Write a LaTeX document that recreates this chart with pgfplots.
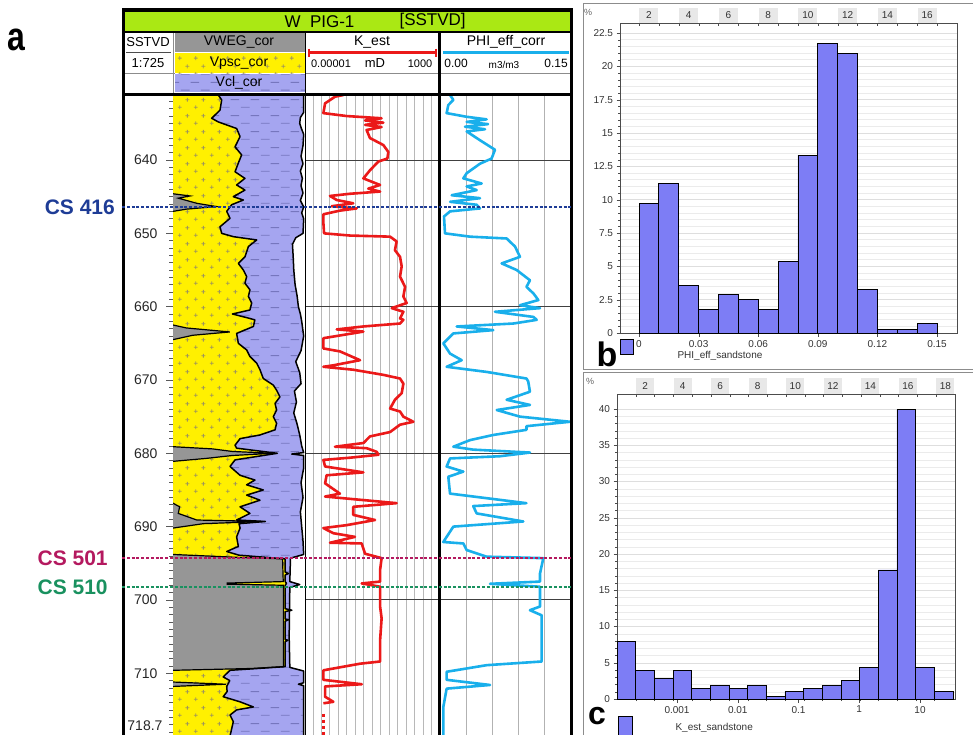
\documentclass[border=0pt]{standalone}
\usepackage{fontspec}
\setmainfont{Liberation Sans}
\usepackage{pgfplots}
\usepackage{pgfplotstable}
\pgfplotsset{compat=1.18}
\usetikzlibrary{patterns,patterns.meta}
\pgfplotsset{/pgf/number format/assume math mode=true}

\definecolor{titlegreen}{RGB}{170,232,20}
\definecolor{sandyellow}{RGB}{255,240,0}
\definecolor{shalepurple}{RGB}{165,165,240}
\definecolor{coalgray}{RGB}{150,150,150}
\definecolor{plusc}{RGB}{160,150,90}
\definecolor{dashc}{RGB}{118,118,190}
\definecolor{kred}{RGB}{235,25,25}
\definecolor{phiblue}{RGB}{25,175,235}
\definecolor{barblue}{RGB}{125,125,245}
\definecolor{csA}{RGB}{30,60,150}
\definecolor{csB}{RGB}{180,25,95}
\definecolor{csC}{RGB}{25,145,95}

\tikzdeclarepattern{
  name=sandplus, type=uncolored,
  bounding box={(0pt,0pt) and (16pt,16pt)},
  tile size={(16pt,16pt)},
  code={\draw[line width=0.8pt] (2pt,4pt)--(6pt,4pt) (4pt,2pt)--(4pt,6pt)
        (10pt,12pt)--(14pt,12pt) (12pt,10pt)--(12pt,14pt);}}
\tikzdeclarepattern{
  name=shaledash, type=uncolored,
  bounding box={(0pt,0pt) and (20pt,16pt)},
  tile size={(20pt,16pt)},
  code={\draw[line width=1pt] (1pt,4pt)--(10pt,4pt) (11pt,12pt)--(20pt,12pt);}}

% purple (Vcl) right boundary, cumulative
\pgfplotstableread{
d f
631.13 0.99
633.5 0.99
634.2 0.965
635.0 0.96
635.8 0.975
636.5 0.99
638.0 0.985
639.5 0.97
640.5 0.985
641.5 0.965
642.5 0.98
643.5 0.97
644.5 0.985
645.5 0.965
646.4 0.99
647.2 0.975
648.0 0.99
650.0 0.985
650.6 0.93
651.5 0.905
653.0 0.91
655.0 0.915
657.0 0.925
658.5 0.94
660.0 0.95
661.0 0.965
662.0 0.975
664.0 0.99
666.0 0.97
667.5 0.93
669.0 0.96
670.5 0.97
671.5 0.92
673.0 0.935
674.5 0.915
676.0 0.94
677.5 0.96
679.0 0.975
679.9 0.99
680.1 0.90
680.3 0.99
682.0 0.99
684.0 0.97
686.0 0.985
688.0 0.965
690.0 0.975
692.0 0.985
693.8 0.99
694.3 0.89
697.5 0.885
697.9 0.96
698.3 0.885
705.0 0.88
709.2 0.885
709.7 0.99
711.3 0.99
711.5 0.95
711.7 0.99
718.7 0.99
}\cthree

% yellow (Vpsc) right boundary, cumulative
\pgfplotstableread{
d f
631.13 0.343
631.8 0.369
633.2 0.356
634.3 0.293
634.8 0.343
635.7 0.482
636.8 0.508
638.2 0.47
639.3 0.52
640.4 0.495
641.6 0.47
642.5 0.545
643.4 0.482
644.1 0.545
645.0 0.457
645.45 0.533
646.1 0.444
647.0 0.407
647.95 0.432
649.1 0.356
650.0 0.369
650.45 0.457
650.9 0.634
651.8 0.571
653.2 0.545
654.1 0.495
655.0 0.533
655.9 0.558
656.8 0.545
657.7 0.583
658.6 0.571
659.5 0.596
660.45 0.583
661.0 0.45
661.5 0.56
661.8 0.62
662.7 0.609
663.65 0.482
665.0 0.495
665.9 0.558
666.8 0.583
667.7 0.634
668.6 0.659
669.8 0.684
670.7 0.76
671.4 0.785
672.3 0.81
673.2 0.773
674.1 0.785
675.0 0.76
675.9 0.785
676.8 0.773
677.5 0.659
678.0 0.508
678.9 0.47
679.3 0.482
680.0 0.79
680.9 0.47
681.8 0.432
683.0 0.508
683.65 0.621
684.3 0.558
685.0 0.684
685.7 0.558
686.4 0.659
687.3 0.508
688.2 0.583
689.1 0.482
689.3 0.70
689.6 0.50
690.2 0.508
691.4 0.482
692.7 0.495
693.4 0.407
693.9 0.50
694.4 0.85
696.2 0.85
696.4 0.875
696.6 0.85
697.5 0.85
697.75 0.86
698.0 0.85
701.2 0.85
701.4 0.9
701.6 0.85
702.6 0.85
702.7 0.875
702.9 0.85
705.4 0.85
705.5 0.87
705.7 0.85
709.1 0.85
709.4 0.6
709.6 0.432
710.5 0.38
711.0 0.43
711.8 0.407
712.5 0.41
713.2 0.38
713.9 0.508
714.6 0.609
715.0 0.482
715.7 0.432
716.6 0.457
718.7 0.43
}\ctwo

% K_est (mD)
\pgfplotstableread{
d k
631.13 1.86e-3
631.36 6.0e-4
632.27 1.55e-4
633.6 1.23e-4
634.0 2.95e-3
634.3 0.347
634.6 0.0363
634.9 0.437
635.2 0.0363
635.5 0.347
635.9 0.0447
637.0 0.0708
637.95 0.437
638.9 0.871
639.8 0.759
640.2 0.224
641.4 0.0708
642.5 0.0288
642.95 0.0891
643.4 0.282
643.9 0.0562
644.3 0.282
644.6 4.68e-3
644.9 3.02e-4
645.45 7.59e-4
645.9 7.24e-3
646.3 3.8e-4
646.6 0.0115
646.9 1.17e-3
647.4 1.23e-4
648.6 1.23e-4
650.0 1.35e-4
650.3 4.68e-3
650.45 1.10
651.1 2.69
652.3 2.14
653.2 4.27
654.5 5.37
655.9 4.27
657.3 8.51
658.6 6.76
659.5 10.5
660.2 1.38
660.7 6.76
661.6 4.27
661.8 6.76
662.3 4.27
662.7 0.0288
663.1 7.59e-4
663.4 0.0288
664.3 1.23e-4
665.7 1.23e-4
666.1 1.17e-3
667.3 0.0182
668.0 4.79e-4
668.2 1.23e-4
668.6 7.24e-3
669.3 0.437
669.8 4.27
670.5 6.76
671.8 5.37
672.7 2.14
673.9 1.10
674.3 4.27
675.0 6.76
675.7 26.3
676.1 4.27
677.1 1.10
677.7 0.0708
678.6 0.0288
679.1 6.0e-4
679.3 0.0447
679.8 0.178
680.2 0.224
680.6 4.68e-3
680.9 1.23e-4
681.8 1.55e-4
682.6 0.0288
683.0 1.9e-4
684.1 1.55e-4
685.5 1.17e-3
685.9 1.55e-4
686.8 2.69
687.3 7.24e-3
688.4 7.24e-3
689.1 0.141
689.8 2.95e-3
690.2 1.23e-4
690.9 4.79e-4
691.4 9.12e-3
692.2 3.02e-4
692.3 0.0229
693.7 0.0363
694.3 0.347
695.9 0.282
697.5 0.282
697.75 0.0229
698.2 0.282
700.9 0.282
702.5 0.347
705.5 0.282
708.4 0.282
708.7 0.0182
709.6 1.23e-4
710.9 1.23e-4
711.5 0.0229
711.8 1.55e-4
713.2 1.55e-4
713.9 4.79e-4
714.1 1.23e-4
}\ktab

% PHI_eff_corr (m3/m3)
\pgfplotstableread{
d p
631.13 0.0115
631.8 0.0153
632.5 0.0095
633.6 0.0076
634.1 0.0305
634.45 0.0534
634.8 0.0305
635.1 0.055
635.45 0.0286
635.8 0.0515
636.1 0.0305
637.3 0.0458
638.6 0.063
639.8 0.059
640.5 0.0458
641.8 0.0305
642.5 0.0267
643.2 0.0477
643.6 0.0305
644.1 0.042
644.8 0.0134
645.2 0.0458
645.7 0.0115
646.1 0.042
646.6 0.0458
647.0 0.0115
647.7 0.0046
650.0 0.0057
650.45 0.0344
650.7 0.0763
651.8 0.0859
653.2 0.0916
654.1 0.0706
655.0 0.0878
656.4 0.103
657.3 0.099
658.2 0.107
659.1 0.1126
659.8 0.0916
660.2 0.1145
660.7 0.063
661.4 0.107
661.8 0.1107
662.3 0.084
662.7 0.0191
663.2 0.061
663.65 0.0153
665.0 0.0038
666.4 0.0115
667.3 0.0248
668.2 0.0076
668.9 0.0534
669.8 0.099
670.2 0.101
671.6 0.103
672.7 0.0763
673.4 0.103
674.1 0.065
675.0 0.0916
675.7 0.1489
676.3 0.099
676.8 0.099
677.5 0.061
678.2 0.0344
679.1 0.0153
679.5 0.038
679.9 0.103
680.4 0.0687
680.7 0.0115
681.8 0.0076
682.5 0.0267
683.2 0.0095
685.5 0.0115
686.8 0.099
687.2 0.038
688.2 0.042
689.3 0.0954
690.0 0.0153
691.4 0.0076
692.1 0.0038
692.3 0.0267
693.2 0.0305
694.1 0.0534
694.3 0.1183
696.4 0.1145
697.5 0.1145
697.8 0.0573
698.2 0.1145
700.9 0.1145
701.4 0.103
702.1 0.1164
705.5 0.1164
708.4 0.1164
708.9 0.0534
709.8 0.0076
710.9 0.0076
711.6 0.0573
712.1 0.0076
714.6 0.0038
718.7 0.0038
}\phitab

% histogram b: bin left edge, percent
\pgfplotstableread{
x y
0 9.75
0.01 11.25
0.02 3.6
0.03 1.8
0.04 2.9
0.05 2.5
0.06 1.8
0.07 5.4
0.08 13.35
0.09 21.7
0.10 20.95
0.11 3.25
0.12 0.3
0.13 0.3
0.14 0.7
0.15 0
}\phihist

% histogram c: bin left edge (mD), percent
\pgfplotstableread{
x y
1.028e-4 8.0
2.085e-4 4.0
4.23e-4 2.85
8.59e-4 4.0
1.742e-3 1.45
3.53e-3 1.9
7.17e-3 1.5
1.455e-2 1.9
2.95e-2 0.4
5.99e-2 1.0
0.1216 1.5
0.2466 1.9
0.5005 2.6
1.016 4.4
2.061 17.8
4.18 39.9
8.49 4.4
17.2 1.0
34.9 0
}\khist

\newcommand{\fs}[1]{\fontsize{#1}{#1}\selectfont}

\begin{document}
\begin{tikzpicture}
\useasboundingbox (0pt,0pt) rectangle (973pt,-734pt);

% ---------- header ----------
\fill[titlegreen] (123pt,-10pt) rectangle (571pt,-32pt);
\node[anchor=west,font=\fs{17}] at (281pt,-21.5pt) {W\ \ PIG-1};
\node[anchor=west,font=\fs{17}] at (396pt,-21.5pt) {[SSTVD]};
\node[font=\fs{13}] at (148pt,-42pt) {SSTVD};
\draw[black!70,line width=0.8pt] (126pt,-52pt) -- (171pt,-52pt);
\node[font=\fs{13}] at (148pt,-63pt) {1:725};
\fill[coalgray] (175pt,-33pt) rectangle (305pt,-52pt);
\fill[sandyellow,postaction={pattern=sandplus,pattern color=plusc}] (175pt,-53pt) rectangle (305pt,-73pt);
\fill[shalepurple,postaction={pattern=shaledash,pattern color=dashc}] (175pt,-74pt) rectangle (305pt,-92pt);
\node[font=\fs{14}] at (239pt,-42pt) {VWEG\_cor};
\node[font=\fs{14}] at (239pt,-63pt) {Vpsc\_cor};
\node[font=\fs{14}] at (239pt,-83pt) {Vcl\_cor};
\node[font=\fs{14}] at (372pt,-42pt) {K\_est};
\draw[kred,line width=2.6pt] (309pt,-52.5pt) -- (436pt,-52.5pt);
\draw[kred,line width=1.6pt] (309pt,-48.5pt) -- (309pt,-56.5pt) (436pt,-48.5pt) -- (436pt,-56.5pt);
\node[font=\fs{11}] at (331pt,-63.5pt) {0.00001};
\node[font=\fs{13}] at (375pt,-63.5pt) {mD};
\node[font=\fs{11}] at (420pt,-63.5pt) {1000};
\node[font=\fs{14}] at (506pt,-42pt) {PHI\_eff\_corr};
\draw[phiblue,line width=2.6pt] (443pt,-52.5pt) -- (569pt,-52.5pt);
\node[font=\fs{12}] at (456pt,-63.5pt) {0.00};
\node[font=\fs{10}] at (504pt,-64.5pt) {m3/m3};
\node[font=\fs{12}] at (556pt,-63.5pt) {0.15};
\draw[black!45,line width=0.7pt] (123pt,-73.5pt) -- (175pt,-73.5pt) (305pt,-73.5pt) -- (571pt,-73.5pt);
\draw[black!45,line width=0.7pt] (173.5pt,-32pt) -- (173.5pt,-93pt);

% ---------- lithology track ----------
\begin{axis}[at={(173pt,-95pt)}, anchor=north west, scale only axis,
  width=132pt, height=642pt,
  xmin=0, xmax=1, ymin=631.13, ymax=718.7, y dir=reverse,
  axis x line=none, axis y line*=left,
  y axis line style={black!60,line width=0.6pt},
  ytick={630,640,...,720}, minor y tick num=9,
  tick align=outside, major tick length=7pt, minor tick length=4pt,
  tick style={black!65,line width=0.6pt},
  yticklabel style={font=\fs{14}, xshift=-5pt, text=black!85},
  extra y ticks={718.7}, extra y tick labels={718.7},
  extra y tick style={yticklabel style={yshift=11pt, xshift=5pt}},
  clip=true]
\addplot[fill=shalepurple, draw=none, postaction={pattern=shaledash,pattern color=dashc}]
  table[x=f,y=d]{\cthree} -- (axis cs:0,718.7) -- (axis cs:0,631.13) -- cycle;
\addplot[fill=sandyellow, draw=none, postaction={pattern=sandplus,pattern color=plusc}]
  table[x=f,y=d]{\ctwo} -- (axis cs:0,718.7) -- (axis cs:0,631.13) -- cycle;
\addplot[fill=coalgray, draw=black, line width=1.2pt] coordinates
  {(0,644.6) (0.129,644.9) (0.04,645.2) (0.18,645.9) (0.331,646.35) (0.10,646.7) (0,647.0)};
\addplot[fill=coalgray, draw=black, line width=1.2pt] coordinates
  {(0,662.5) (0.1,662.9) (0.43,663.45) (0.15,663.9) (0,664.5)};
\addplot[fill=coalgray, draw=black, line width=1.2pt] coordinates
  {(0,679.1) (0.3,679.4) (0.45,679.75) (0.76,680.0) (0.45,680.3) (0.25,680.7) (0,681.1)};
\addplot[fill=coalgray, draw=black, line width=1.2pt] coordinates
  {(0,686.8) (0.05,687.3) (0.04,688.2) (0.18,689.1) (0.68,689.3) (0.23,689.6) (0,690.2)};
\addplot[fill=coalgray, draw=black, line width=1.2pt] coordinates
  {(0,693.8) (0.5,694.2) (0.83,694.4) (0.835,697.5) (0.41,697.7) (0.41,697.85) (0.836,698.0) (0.836,709.1) (0.6,709.35) (0,709.6)};
\addplot[fill=coalgray, draw=black, line width=1.2pt] coordinates
  {(0,711.2) (0.4,711.5) (0,711.8)};
\addplot[black, line width=1.5pt, line join=round] table[x=f,y=d]{\ctwo};
\addplot[black, line width=1.5pt, line join=round] table[x=f,y=d]{\cthree};
\end{axis}

% ---------- K_est track ----------
\begin{axis}[at={(305pt,-95pt)}, anchor=north west, scale only axis,
  width=135pt, height=642pt,
  xmode=log, xmin=1e-5, xmax=1e3, ymin=631.13, ymax=718.7, y dir=reverse,
  axis line style={draw=none},
  xtick={3e-5,1e-4,3e-4,1e-3,3e-3,1e-2,3e-2,1e-1,3e-1,1,3,10,30,100,300},
  xticklabels={}, ytick={640,660,680,700}, yticklabels={},
  xmajorgrids, ymajorgrids, major tick length=0pt, minor tick length=0pt,
  major x grid style={black!28,line width=0.9pt},
  major y grid style={black!75,line width=1pt}]
\addplot[kred, line width=2.6pt, line join=round] table[x=k,y=d]{\ktab};
\addplot[kred, line width=2.6pt, dash pattern=on 3pt off 3pt] coordinates {(1.23e-4,715.5) (1.23e-4,718.7)};
\end{axis}

% ---------- PHI track ----------
\begin{axis}[at={(440pt,-95pt)}, anchor=north west, scale only axis,
  width=131pt, height=642pt,
  xmin=0, xmax=0.15, ymin=631.13, ymax=718.7, y dir=reverse,
  axis line style={draw=none},
  xtick={0.03,0.06,0.09,0.12}, xticklabels={}, ytick={640,660,680,700}, yticklabels={},
  xmajorgrids, ymajorgrids, major tick length=0pt,
  major x grid style={black!30,line width=1pt},
  major y grid style={black!75,line width=1pt}]
\addplot[phiblue, line width=2.6pt, line join=round] table[x=p,y=d]{\phitab};
\end{axis}

% ---------- frame lines ----------
\draw[black,line width=1.5pt] (305.5pt,-32pt) -- (305.5pt,-740pt);
\draw[black,line width=3.5pt] (439.5pt,-32pt) -- (439.5pt,-740pt);
\draw[black,line width=2pt] (123pt,-32pt) -- (571pt,-32pt);
\draw[black,line width=3pt] (123pt,-94pt) -- (571pt,-94pt);
\draw[black,line width=3.5pt] (123.5pt,-10pt) rectangle (571.5pt,-760pt);

% ---------- CS horizons ----------
\begin{axis}[at={(122pt,-95pt)}, anchor=north west, scale only axis,
  width=449pt, height=642pt, xmin=0, xmax=1,
  ymin=631.13, ymax=718.7, y dir=reverse, hide axis, clip=false]
\addplot[csA, line width=1.6pt, dash pattern=on 3pt off 1.8pt] coordinates {(0,646.4) (1,646.4)};
\addplot[csB, line width=1.6pt, dash pattern=on 3pt off 1.8pt] coordinates {(0,694.3) (1,694.3)};
\addplot[csC, line width=1.6pt, dash pattern=on 3pt off 1.8pt] coordinates {(0,698.25) (1,698.25)};
\node[anchor=east, text=csA, font=\fs{21}\bfseries] at (axis cs:-0.008,646.4) {CS 416};
\node[anchor=east, text=csB, font=\fs{21}\bfseries] at (axis cs:-0.024,694.3) {CS 501};
\node[anchor=east, text=csC, font=\fs{21}\bfseries] at (axis cs:-0.024,698.25) {CS 510};
\end{axis}

\node[font=\fs{40}\bfseries, xscale=0.8] at (16pt,-40pt) {a};

% ---------- histogram b ----------
\draw[black!45,line width=0.8pt] (583pt,-3pt) -- (975pt,-3pt) (583pt,-3pt) -- (583pt,-369pt) -- (975pt,-369pt);
\node[font=\fs{9},text=black!60] at (588pt,-12pt) {\%};
\begin{axis}[at={(620pt,-333pt)}, anchor=south west, scale only axis,
  width=337pt, height=310pt,
  xmin=-0.00956, xmax=0.16007, ymin=0, ymax=23.25,
  axis line style={black!70,line width=0.7pt},
  xtick={0,0.03,0.06,0.09,0.12,0.15}, xticklabels={0,0.03,0.06,0.09,0.12,0.15},
  ytick={0,2.5,5,7.5,10,12.5,15,17.5,20,22.5},
  yticklabels={0,2.5,5,7.5,10,12.5,15,17.5,20,22.5},
  minor y tick num=4, tick pos=left, tick align=outside,
  major tick length=3.5pt, minor tick length=2pt, tick style={black!70},
  ymajorgrids, yminorgrids, major grid style={black!13}, minor grid style={black!8},
  ticklabel style={font=\fs{10}, text=black!80}]
\addplot[ybar interval, fill=barblue, draw=black, line width=0.8pt] table[x=x,y=y]{\phihist};
\end{axis}
\begin{axis}[at={(620pt,-333pt)}, anchor=south west, scale only axis,
  width=337pt, height=310pt,
  xmin=-0.00956, xmax=0.16007, ymin=0, ymax=1,
  axis x line*=top, axis y line=none, axis line style={black!70,line width=0.7pt},
  xtick={0.005,0.025,0.045,0.065,0.085,0.105,0.125,0.145},
  xticklabels={2,4,6,8,10,12,14,16},
  minor xtick={0,0.01,0.02,0.03,0.04,0.05,0.06,0.07,0.08,0.09,0.10,0.11,0.12,0.13,0.14,0.15},
  major tick length=0pt, minor tick length=3pt, tick align=inside, tick style={black!70},
  xticklabel style={font=\fs{10}, text=black!80, fill=black!9, minimum width=19pt,
    minimum height=15pt, inner sep=0pt}]
\end{axis}
\node[font=\fs{34}\bfseries] at (607pt,-354pt) {b};
\draw[fill=barblue,draw=black,line width=0.8pt] (620pt,-339pt) rectangle (633pt,-354pt);
\node[anchor=west,font=\fs{10},text=black!80] at (674pt,-356pt) {PHI\_eff\_sandstone};

% ---------- histogram c ----------
\draw[black!45,line width=0.8pt] (583pt,-740pt) -- (583pt,-372pt) -- (975pt,-372pt);
\node[font=\fs{9},text=black!60] at (590pt,-381pt) {\%};
\begin{axis}[at={(617pt,-699pt)}, anchor=south west, scale only axis,
  width=338pt, height=305pt,
  xmode=log, xmin=1.028e-4, xmax=37.7, ymin=0, ymax=42.07,
  axis line style={black!70,line width=0.7pt},
  xtick={0.001,0.01,0.1,1,10}, xticklabels={0.001,0.01,0.1,1,10},
  minor xtick={2.085e-4,4.23e-4,8.59e-4,1.742e-3,3.53e-3,7.17e-3,1.455e-2,2.95e-2,5.99e-2,0.1216,0.2466,0.5005,1.016,2.061,4.18,8.49,17.2},
  ytick={0,5,10,15,20,25,30,35,40}, yticklabels={0,5,10,15,20,25,30,35,40},
  minor y tick num=4, tick pos=left, tick align=outside,
  major tick length=3.5pt, minor tick length=2pt, tick style={black!70},
  ymajorgrids, yminorgrids, major grid style={black!13}, minor grid style={black!8},
  ticklabel style={font=\fs{10}, text=black!80}]
\addplot[ybar interval, fill=barblue, draw=black, line width=0.8pt] table[x=x,y=y]{\khist};
\end{axis}
\begin{axis}[at={(617pt,-699pt)}, anchor=south west, scale only axis,
  width=338pt, height=305pt,
  xmin=0, xmax=18.01, ymin=0, ymax=1,
  axis x line*=top, axis y line=none, axis line style={black!70,line width=0.7pt},
  xtick={1.5,3.5,5.5,7.5,9.5,11.5,13.5,15.5,17.5},
  xticklabels={2,4,6,8,10,12,14,16,18},
  minor xtick={0,1,...,18},
  major tick length=0pt, minor tick length=3pt, tick align=inside, tick style={black!70},
  xticklabel style={font=\fs{10}, text=black!80, fill=black!9, minimum width=18pt,
    minimum height=16pt, inner sep=0pt}]
\end{axis}
\node[font=\fs{32}\bfseries] at (597pt,-716pt) {c};
\draw[fill=barblue,draw=black,line width=0.8pt] (618pt,-716pt) rectangle (632pt,-735pt);
\node[anchor=west,font=\fs{10},text=black!80] at (672pt,-728pt) {K\_est\_sandstone};
\end{tikzpicture}
\end{document}
